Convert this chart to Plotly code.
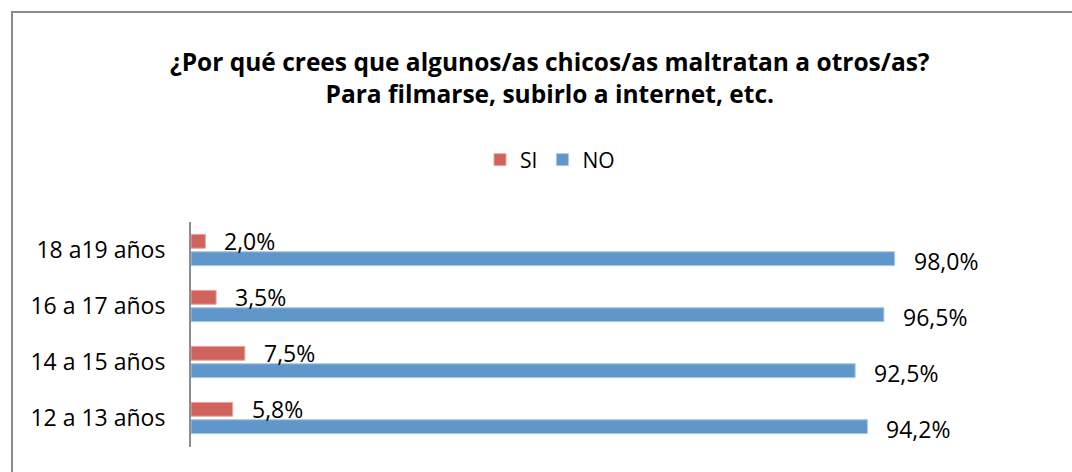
import plotly.graph_objects as go

categories = ["12 a 13 años", "14 a 15 años", "16 a 17 años", "18 a19 años"]
si_values = [5.8, 7.5, 3.5, 2.0]
no_values = [94.2, 92.5, 96.5, 98.0]
si_labels = ["5,8%", "7,5%", "3,5%", "2,0%"]
no_labels = ["94,2%", "92,5%", "96,5%", "98,0%"]

title_text = ("<b>¿Por qué crees que algunos/as chicos/as maltratan a otros/as?</b><br>"
              "<b>Para filmarse, subirlo a internet, etc.</b>")

RED = "#D0645C"
BLUE = "#6097CA"
FONT = "Open Sans"

W, H = 1072, 472
PL, PR, PT, PB = 191, 909, 222, 447  # plot area in page pixels
L, R, T, B = PL, W - PR, PT, H - PB
PW, PH = PR - PL, PB - PT

def px_x(p):
    return (p - PL) / PW

def px_y(p):
    return (PB - p) / PH

fig = go.Figure()
fig.add_trace(go.Bar(
    y=categories, x=no_values, orientation="h", name="NO",
    marker=dict(color=BLUE, line=dict(color="#A9C6E6", width=1)),
    legendrank=2,
))
fig.add_trace(go.Bar(
    y=categories, x=si_values, orientation="h", name="SI",
    marker=dict(color=RED, line=dict(color="#E6A7A2", width=1)),
    legendrank=1,
))

for c, v, t in zip(categories, si_values, si_labels):
    fig.add_annotation(x=v, y=c, xref="x", yref="y", text=t, showarrow=False,
                       xanchor="left", yanchor="middle", xshift=17, yshift=9,
                       font=dict(family=FONT, size=23, color="#000000"))
for c, v, t in zip(categories, no_values, no_labels):
    fig.add_annotation(x=v, y=c, xref="x", yref="y", text=t, showarrow=False,
                       xanchor="left", yanchor="middle", xshift=17, yshift=-11,
                       font=dict(family=FONT, size=23, color="#000000"))

# title
fig.add_annotation(x=0.5, y=px_y(77), xref="paper", yref="paper", text=title_text,
                   showarrow=False, xanchor="center", yanchor="middle",
                   font=dict(family=FONT, size=24.5, color="#000000"))

# chart frame (top and left edges visible; right/bottom beyond the picture)
fig.add_shape(type="rect", xref="paper", yref="paper",
              x0=px_x(12), x1=px_x(1200), y0=px_y(12), y1=px_y(600),
              line=dict(color="#8C8C8C", width=2), fillcolor="rgba(0,0,0,0)",
              layer="below")

fig.update_layout(
    width=W, height=H,
    margin=dict(l=L, r=R, t=T, b=B, autoexpand=False),
    paper_bgcolor="white", plot_bgcolor="rgba(0,0,0,0)",
    barmode="group", bargap=0.38, bargroupgap=0.2,
    font=dict(family=FONT, size=23, color="#000000"),
    legend=dict(orientation="h", x=0.5, xanchor="center", xref="paper",
                y=px_y(160), yanchor="middle", yref="paper",
                font=dict(family=FONT, size=21), itemwidth=30,
                bgcolor="rgba(0,0,0,0)"),
    xaxis=dict(range=[0, 100], visible=False, fixedrange=True),
    yaxis=dict(showline=True, linecolor="#8C8C8C", linewidth=2,
               ticks="", showgrid=False, ticklabelstandoff=19,
               tickfont=dict(family=FONT, size=23, color="#000000")),
    showlegend=True,
)

fig.write_html(
    "out.html",
    config={"displayModeBar": False},
    post_script="document.body.style.margin='0';document.body.style.overflow='hidden';",
)
